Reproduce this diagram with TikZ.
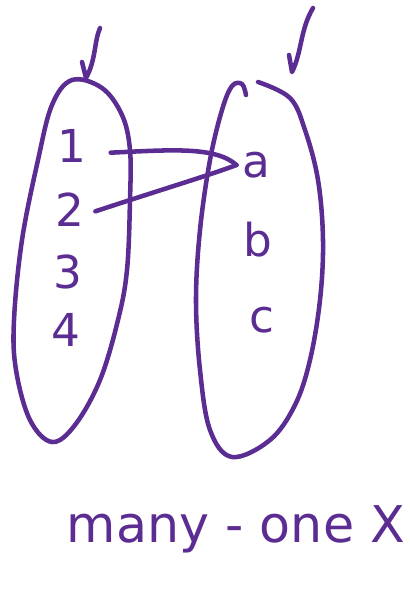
\documentclass[tikz,border=0pt]{standalone}
\usepackage{fontspec}
\setmainfont{DejaVu Sans}
\definecolor{pen}{RGB}{91,44,146}
\begin{document}
\begin{tikzpicture}[x=0.75pt,y=-0.75pt,
  ink/.style={draw=pen,line width=3.4pt,line cap=round,line join=round},
  lbl/.style={text=pen,inner sep=0pt,font=\fontsize{34pt}{38pt}\selectfont},
  big/.style={text=pen,inner sep=0pt,font=\fontsize{38pt}{42pt}\selectfont}]
\useasboundingbox (0,0) rectangle (410,607);
% left set outline
\draw[ink] plot[smooth cycle,tension=0.6] coordinates {
 (72,80) (102,88) (122,115) (130,150) (130,200) (127,270) (118,320) (100,380)
 (75,425) (52,442) (30,420) (16,370) (14,320) (22,240) (38,160) (52,105)};
% right set outline
\draw[ink] plot[smooth,tension=0.6] coordinates {
 (258,82) (290,98) (305,130) (318,180) (323,240) (320,300) (310,360) (295,405)
 (270,440) (232,457) (210,430) (200,370) (196,300) (200,230) (210,160) (222,110) (232,86) (242,84) (246,95)};
% arrows pointing at the sets
\draw[ink] (100,28) .. controls (94,42) and (96,60) .. (86,78) -- (82,62);
\draw[ink] (313,8) .. controls (300,30) and (302,52) .. (292,72) -- (289,55);
% elements
\node[lbl] (n1) at (72,146) {1};
\node[lbl] (n2) at (70,210) {2};
\node[lbl] (n3) at (68,272) {3};
\node[lbl] (n4) at (66,330) {4};
\node[lbl] (ea) at (256,165) {a};
\node[lbl] (eb) at (258,240) {b};
\node[lbl] (ec) at (262,320) {c};
% mappings
\draw[ink] ([xshift=18pt,yshift=-5pt]n1.east) .. controls (170,150) and (215,146) .. ([xshift=-4pt]ea.west);
\draw[ink] ([xshift=8pt,yshift=-1pt]n2.east) .. controls (160,190) and (210,175) .. ([xshift=-4pt]ea.west);
% caption
\node[big,anchor=base] (cap) at (236,542) {many - one X};
\end{tikzpicture}
\end{document}
